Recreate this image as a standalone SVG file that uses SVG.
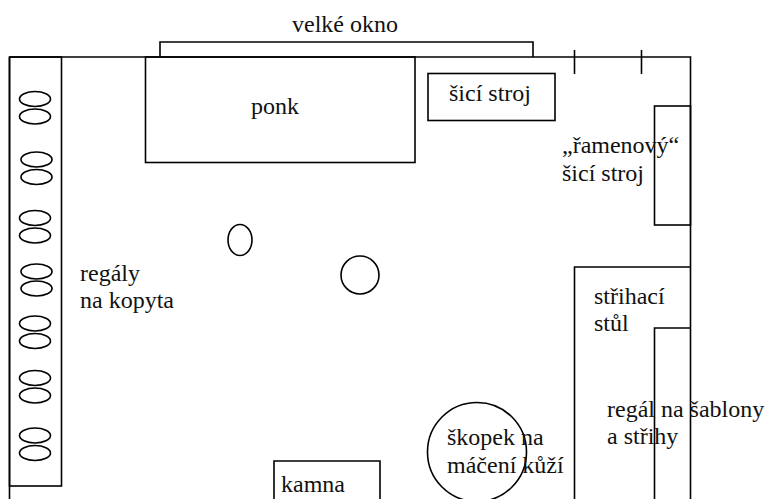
<svg xmlns="http://www.w3.org/2000/svg" width="769" height="499" viewBox="0 0 769 499">
<style>
rect,ellipse,circle,path{fill:none;stroke:#000;stroke-width:1.6}
text{font-family:"Liberation Serif","Times New Roman",serif;font-size:24px;fill:#111}
</style>
<g id="walls"><path d="M9.500 57H690.500V499M9.500 57V499"/><path d="M574.500 50V74M641.500 50V74"/></g>
<g id="okno"><path d="M160 57V42H533V57"/><text x="292" y="32">velké okno</text></g>
<g id="ponk"><rect x="145.500" y="57" width="269.500" height="105.500"/><text x="251" y="114">ponk</text></g>
<g id="sici-stroj"><rect x="428" y="73.500" width="127" height="47"/><text x="449" y="101">šicí stroj</text></g>
<g id="ramenovy"><rect x="654.500" y="106" width="36" height="119"/><text x="562" y="153">„řamenový“</text><text x="562" y="181">šicí stroj</text></g>
<g id="regaly"><rect x="9.500" y="57" width="52" height="429"/>
<g id="kopyta">
<ellipse cx="35" cy="99" rx="15.500" ry="7.500"/><ellipse cx="35" cy="116.500" rx="15.500" ry="7.500"/>
<ellipse cx="36.500" cy="159.500" rx="15.500" ry="7.500"/><ellipse cx="36.500" cy="177" rx="15.500" ry="7.500"/>
<ellipse cx="35" cy="218" rx="15.500" ry="7.500"/><ellipse cx="35" cy="235.500" rx="15.500" ry="7.500"/>
<ellipse cx="36.500" cy="271.500" rx="15.500" ry="7.500"/><ellipse cx="36.500" cy="288.500" rx="15.500" ry="7.500"/>
<ellipse cx="35" cy="323.500" rx="15.500" ry="7.500"/><ellipse cx="35" cy="341" rx="15.500" ry="7.500"/>
<ellipse cx="35" cy="378" rx="15.500" ry="7.500"/><ellipse cx="35" cy="395.500" rx="15.500" ry="7.500"/>
<ellipse cx="35" cy="435.500" rx="15.500" ry="7.500"/><ellipse cx="35" cy="453" rx="15.500" ry="7.500"/>
</g>
<text x="80" y="281">regály</text><text x="80" y="308">na kopyta</text></g>
<g id="sloup1"><ellipse cx="240" cy="240" rx="12" ry="15.500"/></g>
<g id="sloup2"><circle cx="360" cy="275" r="19"/></g>
<g id="strihaci-stul"><path d="M574.500 499V267H690.500"/><text x="594" y="304">střihací</text><text x="594" y="331">stůl</text></g>
<g id="regal-sablony"><path d="M654.500 499V328H690.500"/><text x="607" y="417">regál na šablony</text><text x="607" y="444">a střihy</text></g>
<g id="skopek"><circle cx="477" cy="452" r="49.500"/><text x="447" y="445">škopek na</text><text x="447" y="473">máčení kůží</text></g>
<g id="kamna"><path d="M274 499V461H380V499"/><text x="281" y="492">kamna</text></g>
</svg>
